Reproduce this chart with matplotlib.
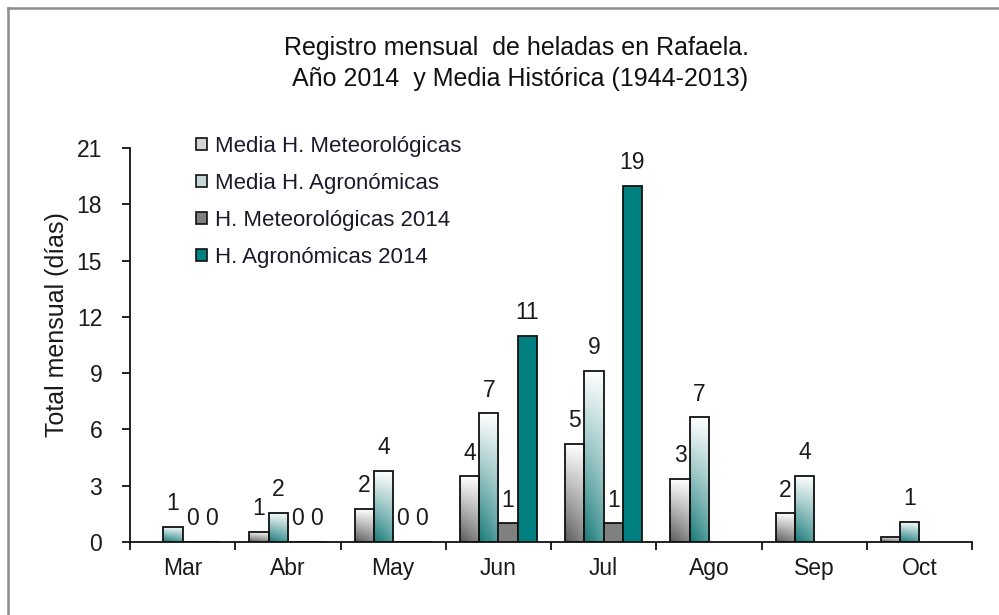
import numpy as np
import matplotlib
matplotlib.use("Agg")
import matplotlib.pyplot as plt
from matplotlib.patches import Rectangle
from matplotlib.lines import Line2D

plt.rcParams['font.family'] = ['Liberation Sans', 'DejaVu Sans']

# ---------------- data ----------------
months = ["Mar", "Abr", "May", "Jun", "Jul", "Ago", "Sep", "Oct"]
series_names = ["Media H. Meteorológicas", "Media H. Agronómicas",
                "H. Meteorológicas 2014", "H. Agronómicas 2014"]
media_met = [np.nan, 0.55, 1.75, 3.5, 5.25, 3.35, 1.53, 0.27]
media_agr = [0.8, 1.55, 3.78, 6.86, 9.13, 6.65, 3.53, 1.08]
met_2014 = [0, 0, 0, 1, 1, np.nan, np.nan, np.nan]
agr_2014 = [0, 0, 0, 11, 19, np.nan, np.nan, np.nan]
labels_media_met = [None, "1", "2", "4", "5", "3", "2", None]
labels_media_agr = ["1", "2", "4", "7", "9", "7", "4", "1"]
labels_met_2014 = ["0", "0", "0", "1", "1", None, None, None]
labels_agr_2014 = ["0", "0", "0", "11", "19", None, None, None]
yticks = [0, 3, 6, 9, 12, 15, 18, 21]
title1 = "Registro mensual  de heladas en Rafaela."
title2 = "Año 2014  y Media Histórica (1944-2013)"
ylabel = "Total mensual (días)"

# ---------------- figure ----------------
W, H = 999, 615
fig = plt.figure(figsize=(W / 100, H / 100), dpi=100)
fig.patch.set_facecolor("white")

# outer border (chart area frame)
fig.add_artist(Line2D([8 / W, 8 / W], [1 - 8 / H, 0], color="#8c8c8c", lw=1.8,
                      transform=fig.transFigure))
fig.add_artist(Line2D([8 / W, 1], [1 - 8 / H, 1 - 8 / H], color="#8c8c8c", lw=1.8,
                      transform=fig.transFigure))

ax = fig.add_axes([130 / W, 1 - 542 / H, 842 / W, 394 / H])

x = np.arange(len(months))
bw = 0.1825
offsets = np.array([-1.5, -0.5, 0.5, 1.5]) * bw

white = np.array([1.0, 1.0, 1.0])


def gradient(dark):
    dark = np.array(matplotlib.colors.to_rgb(dark))
    h, w = 80, 20
    yy = np.linspace(0, 1, h)[:, None]
    xx = np.linspace(0, 1, w)[None, :]
    t = np.clip(yy * (0.72 + 0.28 * (1 - xx)), 0, 1)
    img = white * (1 - t)[..., None] + dark * t[..., None]
    return img


grad_specs = [
    (media_met, labels_media_met, "grad", "#5a5a5a"),
    (media_agr, labels_media_agr, "grad", "#157a78"),
    (met_2014, labels_met_2014, "solid", "#808080"),
    (agr_2014, labels_agr_2014, "solid", "#008080"),
]

for si, (vals, labs, kind, col) in enumerate(grad_specs):
    vals = np.array(vals, dtype=float)
    xs = x + offsets[si]
    if kind == "solid":
        bars = ax.bar(xs, vals, width=bw, color=col, edgecolor="#111111",
                      linewidth=1.3, zorder=3)
    else:
        bars = ax.bar(xs, vals, width=bw, facecolor="none", edgecolor="#111111",
                      linewidth=1.3, zorder=3)
        img = gradient(col)
        for b, v in zip(bars, vals):
            if np.isnan(v) or v <= 0:
                continue
            x0 = b.get_x()
            im = ax.imshow(img, extent=(x0, x0 + bw, 0, v), origin="upper",
                           aspect="auto", zorder=2.5, interpolation="bilinear")
            im.set_clip_path(b)
    for xi, v, lab in zip(xs, vals, labs):
        if lab is None or np.isnan(v):
            continue
        ax.annotate(lab, (xi, v), xytext=(0, 12), textcoords="offset points",
                    ha="center", va="baseline", fontsize=16.5, color="#1a1a1a",
                    zorder=5)

ax.set_xlim(-0.5, len(months) - 0.5)
ax.set_ylim(0, 21)
ax.set_yticks(yticks)
ax.set_yticklabels([str(t) for t in yticks])
ax.set_xticks(x)
ax.set_xticklabels(months)
ax.set_xticks(np.arange(-0.5, len(months), 1.0), minor=True)
ax.tick_params(axis="x", which="major", length=0, pad=11, labelsize=16.5,
               labelcolor="#1a1a1a")
ax.tick_params(axis="x", which="minor", length=6, width=1.3, direction="out",
               color="#111111")
ax.tick_params(axis="y", which="major", length=6, width=1.3, direction="out",
               pad=14, labelsize=16.5, labelcolor="#1a1a1a", color="#111111")
for s in ("top", "right"):
    ax.spines[s].set_visible(False)
for s in ("left", "bottom"):
    ax.spines[s].set_linewidth(1.3)
    ax.spines[s].set_color("#111111")
ax.set_facecolor("none")

fig.text(57 / W, 1 - 325 / H, ylabel, rotation=90, ha="center", va="center",
         fontsize=18, color="#1a1a1a")

fig.text(516 / W, 1 - 55 / H, title1, ha="center", va="baseline", fontsize=18,
         color="#111111")
fig.text(520 / W, 1 - 86 / H, title2, ha="center", va="baseline", fontsize=18,
         color="#111111")

handles = [
    Rectangle((0, 0), 1, 1, facecolor="#d4d4d4", edgecolor="#111111", lw=1.2),
    Rectangle((0, 0), 1, 1, facecolor="#c4d8d8", edgecolor="#111111", lw=1.2),
    Rectangle((0, 0), 1, 1, facecolor="#808080", edgecolor="#111111", lw=1.2),
    Rectangle((0, 0), 1, 1, facecolor="#008080", edgecolor="#111111", lw=1.2),
]
leg = ax.legend(handles, series_names, loc="upper left",
                bbox_to_anchor=(196 / W, 1 - 136 / H),
                bbox_transform=fig.transFigure, frameon=False, fontsize=16,
                handlelength=0.5, handleheight=0.5, handletextpad=0.35,
                labelspacing=0.72, borderpad=0, borderaxespad=0)
for t in leg.get_texts():
    t.set_color("#1a1a2a")

fig.savefig("out.png", dpi=100)
